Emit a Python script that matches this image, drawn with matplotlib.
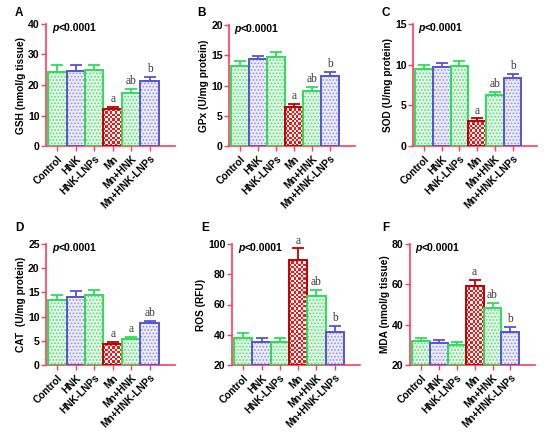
import matplotlib
matplotlib.use("Agg")
import matplotlib.pyplot as plt
import numpy as np

plt.rcParams['font.family'] = ['Liberation Sans', 'DejaVu Sans']
plt.rcParams['font.weight'] = 'bold'

groups = ["Control", "HNK", "HNK-LNPs", "Mn", "Mn+HNK", "Mn+HNK-LNPs"]

gsh_mean = [24.2, 24.7, 25.0, 12.0, 17.3, 21.2]
gsh_err = [2.2, 1.8, 1.5, 0.9, 1.3, 1.4]
gpx_mean = [13.2, 14.4, 14.65, 6.5, 9.15, 11.6]
gpx_err = [0.9, 0.5, 0.9, 0.4, 0.55, 0.7]
sod_mean = [9.5, 9.7, 9.8, 3.1, 6.3, 8.3]
sod_err = [0.45, 0.45, 0.7, 0.3, 0.35, 0.6]
cat_mean = [13.4, 14.1, 14.45, 4.3, 5.4, 8.6]
cat_err = [1.0, 1.1, 1.0, 0.55, 0.35, 0.5]
ros_mean = [37.8, 35.3, 35.3, 89.5, 65.4, 42.1]
ros_err = [3.3, 2.5, 2.5, 7.6, 4.4, 3.5]
mda_mean = [32.0, 31.0, 30.0, 59.2, 48.2, 36.3]
mda_err = [1.5, 1.5, 1.5, 3.1, 2.5, 2.4]

gsh_sig = ["", "", "", "a", "ab", "b"]
gpx_sig = ["", "", "", "a", "ab", "b"]
sod_sig = ["", "", "", "a", "ab", "b"]
cat_sig = ["", "", "", "a", "a", "ab"]
ros_sig = ["", "", "", "a", "ab", "b"]
mda_sig = ["", "", "", "a", "ab", "b"]

panels = [
    ("A", "GSH (nmol/g tissue)", gsh_mean, gsh_err, gsh_sig, (0, 40), [0, 10, 20, 30, 40]),
    ("B", "GPx (U/mg protein)", gpx_mean, gpx_err, gpx_sig, (0, 20), [0, 5, 10, 15, 20]),
    ("C", "SOD (U/mg protein)", sod_mean, sod_err, sod_sig, (0, 15), [0, 5, 10, 15]),
    ("D", "CAT  (U/mg protein)", cat_mean, cat_err, cat_sig, (0, 25), [0, 5, 10, 15, 20, 25]),
    ("E", "ROS (RFU)", ros_mean, ros_err, ros_sig, (20, 100), [20, 40, 60, 80, 100]),
    ("F", "MDA (nmol/g tissue)", mda_mean, mda_err, mda_sig, (20, 80), [20, 40, 60, 80]),
]

# pixel boxes: left, right, top, bottom
boxes = [
    (46, 175, 24, 146),
    (229, 355, 25, 146),
    (413, 537, 24, 146),
    (46, 175, 244, 365),
    (232, 360, 244, 365),
    (410, 535, 244, 365),
]
letter_pos = [(15, 13), (197, 13), (381, 13), (15, 228), (201, 228), (382, 228)]

W, H = 550, 432
fig = plt.figure(figsize=(W / 100, H / 100), dpi=100)

axis_col = '#ff3d5c'
green_edge = '#30dc5c'
green_face = '#e0f8e4'
green_hatch = '#62d880'
blue_edge = '#5555d5'
blue_face = '#ececfa'
blue_hatch = '#9494e0'
red_edge = '#c00000'
red_face = '#ff1010'

styles = ['g', 'b', 'g', 'r', 'g', 'b']

checker_rgb = {
    0: (1.0, 1.0, 1.0),
    1: (1.0, 0.07, 0.07),
}

for (letter, ylabel, mean, err, sig, ylim, yticks), (l, r, t, b), (lx, ly) in zip(panels, boxes, letter_pos):
    ax = fig.add_axes([l / W, 1 - b / H, (r - l) / W, (b - t) / H])
    x = np.arange(len(groups))
    base = ylim[0]
    ax.set_xlim(-0.62, 6.38)
    ax.set_ylim(*ylim)
    for i in range(len(groups)):
        s = styles[i]
        h = mean[i] - base
        if s == 'r':
            bars = ax.bar(x[i], h, bottom=base, width=1.0, color=red_face,
                          linewidth=0, zorder=2)
            p = bars[0]
            # checkerboard texture clipped to the bar
            bb = p.get_window_extent(renderer=fig.canvas.get_renderer())
            cell = 2.3
            nx = max(1, int(round(bb.width / cell)))
            ny = max(1, int(round(bb.height / cell)))
            yy, xx = np.mgrid[0:ny, 0:nx]
            chk = ((xx + yy) % 2)
            img = np.zeros((ny, nx, 3))
            img[chk == 0] = checker_rgb[0]
            img[chk == 1] = checker_rgb[1]
            ext = (p.get_x(), p.get_x() + p.get_width(), p.get_y(), p.get_y() + p.get_height())
            im = ax.imshow(img, extent=ext, aspect='auto', interpolation='nearest',
                           zorder=2.5, origin='lower')
            im.set_clip_path(p)
            ec = red_edge
        else:
            if s == 'g':
                fc, hc, ec = green_face, green_hatch, green_edge
            else:
                fc, hc, ec = blue_face, blue_hatch, blue_edge
            with plt.rc_context({'hatch.linewidth': 0.8}):
                ax.bar(x[i], h, bottom=base, width=1.0, color=fc, edgecolor=hc,
                       hatch='.....', linewidth=0, zorder=2)
        ax.bar(x[i], h, bottom=base, width=1.0, facecolor='none', edgecolor=ec,
               linewidth=1.4, zorder=3)
        ax.errorbar(x[i], mean[i], yerr=[[0], [err[i]]], fmt='none', ecolor=ec,
                    elinewidth=1.3, capsize=4.5, capthick=1.3, zorder=1)
        if sig[i]:
            ax.text(x[i], mean[i] + err[i] + (ylim[1] - ylim[0]) * 0.015, sig[i],
                    ha='center', va='bottom', fontsize=8.3, family='Liberation Serif',
                    fontweight='normal', color='#333333', zorder=4)
    ax.set_xlim(-0.62, 6.38)
    ax.set_ylim(*ylim)
    ax.set_yticks(yticks)
    ax.set_xticks(x)
    ax.set_xticklabels(groups, rotation=45, ha='right', rotation_mode='anchor',
                       fontsize=7.3, fontweight='bold')
    for lab in ax.get_yticklabels():
        lab.set_fontsize(7.6)
        lab.set_fontweight('bold')
    ax.set_ylabel(ylabel, fontsize=7.3, fontweight='bold', labelpad=1.5)
    for sp in ['top', 'right']:
        ax.spines[sp].set_visible(False)
    for sp in ['left', 'bottom']:
        ax.spines[sp].set_color(axis_col)
        ax.spines[sp].set_linewidth(1.2)
    ax.tick_params(axis='both', colors=axis_col, labelcolor='black', length=3.5,
                   width=1.0)
    ax.tick_params(axis='y', pad=1)
    ax.tick_params(axis='x', pad=2)
    ax.patch.set_alpha(0)
    ax.annotate('p', xy=(0.045, 0.965), xycoords='axes fraction', fontsize=7.5,
                fontweight='bold', style='italic', ha='left', va='center')
    ax.annotate('<0.0001', xy=(0.045, 0.965), xycoords='axes fraction',
                xytext=(4.6, 0), textcoords='offset points', fontsize=7.5,
                fontweight='bold', ha='left', va='center')
    fig.text(lx / W, 1 - ly / H, letter, fontsize=8.5, fontweight='bold',
             ha='left', va='center')

fig.savefig('out.png', dpi=100)
